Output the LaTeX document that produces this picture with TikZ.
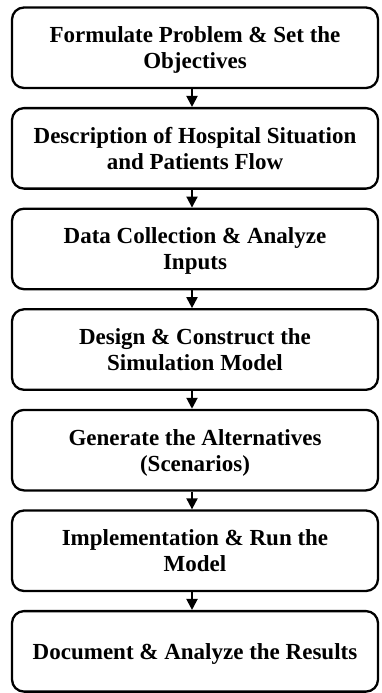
\documentclass[tikz,border=0pt]{standalone}
\usepackage{fontspec}
\setmainfont{Liberation Serif}
\usetikzlibrary{arrows.meta}
\begin{document}
\begin{tikzpicture}[x=1pt,y=-1pt,
  stepbox/.style={draw=black, line width=2.3pt, rounded corners=12pt,
    minimum width=366pt, minimum height=80.5pt, align=center,
    font=\fontsize{23}{26}\selectfont\bfseries, inner sep=0pt, text depth=0pt},
  flow/.style={line width=2pt, -{Triangle[width=11pt,length=11pt]}}]
\useasboundingbox (0,0) rectangle (381,693);
\foreach \i/\txt in {0/{Formulate Problem \& Set the\\Objectives},
                     1/{Description of Hospital Situation\\and Patients Flow},
                     2/{Data Collection \& Analyze\\Inputs},
                     3/{Design \& Construct the\\Simulation Model},
                     4/{Generate the Alternatives\\(Scenarios)},
                     5/{Implementation \& Run the\\Model},
                     6/{Document \& Analyze the Results}}
  \node[stepbox] (s\i) at (195, {7.5 + 100.6*\i + 40.25}) {\txt};
\foreach \a/\b in {0/1,1/2,2/3,3/4,4/5,5/6}
  \draw[flow] ([xshift=-3pt]s\a.south) -- ([xshift=-3pt]s\b.north);
\end{tikzpicture}
\end{document}
